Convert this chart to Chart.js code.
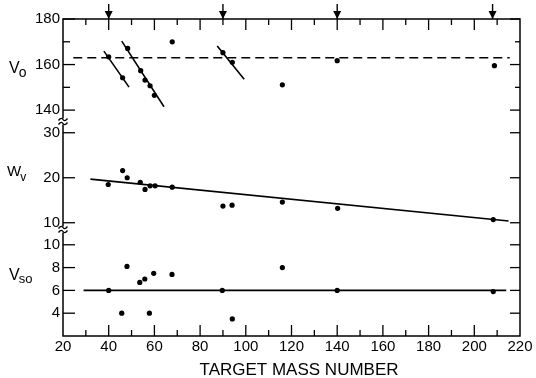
<!DOCTYPE html>
<html>
<head>
<meta charset="utf-8">
<script src="https://cdn.jsdelivr.net/npm/chart.js@4.4.0/dist/chart.umd.min.js"></script>
<style>
  html, body { margin: 0; padding: 0; background: #fff; }
  #wrap { width: 536px; height: 378px; }
</style>
</head>
<body>
<div id="wrap"><canvas id="myChart"></canvas></div>
<script>
// values (mass number vs. potential depth, MeV)
const massV0  = [40, 46.1, 48.3, 54.0, 55.9, 58.1, 60.0, 67.8, 90.0, 94.1, 116.0, 140.0, 208.8];
const depthV0 = [163.4, 154.2, 167.1, 157.3, 153.2, 150.7, 146.5, 170.0, 165.2, 161.0, 151.1, 161.7, 159.5];

const massW  = [39.8, 46.1, 48.1, 53.8, 55.9, 58.1, 60.3, 67.8, 90.0, 94.0, 116.0, 140.2, 208.3];
const depthW = [18.5, 21.6, 20.0, 19.0, 17.4, 18.2, 18.2, 17.9, 13.7, 13.9, 14.6, 13.2, 10.7];

const massSo  = [40, 45.7, 48.0, 53.6, 55.8, 57.8, 59.7, 67.7, 89.7, 94.1, 116.0, 140.0, 208.3];
const depthSo = [6.0, 4.0, 8.1, 6.7, 7.0, 4.0, 7.5, 7.4, 6.0, 3.5, 8.0, 6.0, 5.9];

// fitted lines
const v0MeanMass = [24.5, 215.5];
const v0Mean = [163, 163];
const wFitMass = [32, 215];
const wFit = [19.7, 10.4];
const soMeanMass = [29, 214];
const soMean = [6, 6];
// short slopes through the isotope groups: [mass, V0] end points
const v0Slopes = [
  [[37.9, 165.9], [48.9, 150.1]],
  [[45.7, 170.3], [64.2, 141.5]],
  [[87.5, 168.1], [99.3, 153.5]]
];

// ticks
const massTicks = [20, 40, 60, 80, 100, 120, 140, 160, 180, 200, 220];
const v0Ticks = [140, 160, 180];
const v0Minor = [150, 170];
const wTicks = [10, 20, 30];
const soTicks = [4, 6, 8, 10];
const arrowMass = [40, 90, 140, 208];

const FONT = "'Liberation Sans', Arial, sans-serif";

function pts(xs, ys) {
  return xs.map((x, i) => ({ x: x, y: ys[i] }));
}

function dotSet(data, axis) {
  return {
    data: data, yAxisID: axis,
    pointRadius: 2.6, pointBackgroundColor: '#000', pointBorderWidth: 0,
    showLine: false
  };
}

function lineSet(data, axis, dash) {
  return {
    data: data, yAxisID: axis,
    showLine: true, pointRadius: 0,
    borderColor: '#000', borderWidth: 1.6,
    borderDash: dash || []
  };
}

function yAxis(min, max, ticks, weight, order) {
  return {
    type: 'linear', position: 'left', stack: 'y',
    stackWeight: weight, weight: order,
    min: min, max: max,
    afterBuildTicks: s => { s.ticks = ticks.map(v => ({ value: v })); },
    afterFit: s => { s.width = 63; },
    grid: { display: false, drawTicks: false },
    border: { display: false },
    ticks: { color: '#000', font: { family: FONT, size: 15 }, padding: 3, autoSkip: false }
  };
}

const datasets = [
  dotSet(pts(massV0, depthV0), 'yV'),
  dotSet(pts(massW, depthW), 'yW'),
  dotSet(pts(massSo, depthSo), 'yS'),
  lineSet(pts(v0MeanMass, v0Mean), 'yV', [9, 5]),
  lineSet(pts(wFitMass, wFit), 'yW'),
  lineSet(pts(soMeanMass, soMean), 'yS')
];
v0Slopes.forEach(seg => {
  datasets.push(lineSet(seg.map(p => ({ x: p[0], y: p[1] })), 'yV'));
});

function tickLine(ctx, x1, y1, x2, y2) {
  ctx.beginPath();
  ctx.moveTo(x1, y1);
  ctx.lineTo(x2, y2);
  ctx.stroke();
}

function breakMark(ctx, x, y) {
  ctx.save();
  ctx.fillStyle = '#fff';
  ctx.fillRect(x - 1.5, y - 3, 3, 6);
  ctx.lineWidth = 1.3;
  [-2, 2].forEach(dy => {
    ctx.beginPath();
    ctx.moveTo(x - 4.5, y + dy + 1);
    ctx.bezierCurveTo(x - 2, y + dy - 2.5, x - 0.5, y + dy - 1, x, y + dy);
    ctx.bezierCurveTo(x + 0.5, y + dy + 1, x + 2, y + dy + 2.5, x + 4.5, y + dy - 1);
    ctx.stroke();
  });
  ctx.restore();
}

function subLabel(ctx, main, sub, x, y, size, subSize, drop) {
  ctx.font = size + 'px ' + FONT;
  ctx.textAlign = 'left';
  ctx.textBaseline = 'alphabetic';
  ctx.fillText(main, x, y);
  const w = ctx.measureText(main).width;
  ctx.font = subSize + 'px ' + FONT;
  ctx.fillText(sub, x + w - 1, y + drop);
}

const framePlugin = {
  id: 'frame',
  afterDraw(chart) {
    const ctx = chart.ctx;
    const a = chart.chartArea;
    const xs = chart.scales.x;
    const yV = chart.scales.yV, yW = chart.scales.yW, yS = chart.scales.yS;
    ctx.save();
    ctx.strokeStyle = '#000';
    ctx.fillStyle = '#000';
    ctx.lineWidth = 1.5;
    ctx.strokeRect(a.left, a.top, a.right - a.left, a.bottom - a.top);

    ctx.lineWidth = 1.3;
    // mass ticks, bottom and top, pointing inwards
    for (let m = 30; m < 220; m += 10) {
      const px = xs.getPixelForValue(m);
      const len = m % 20 === 0 ? 11 : 6;
      tickLine(ctx, px, a.bottom, px, a.bottom - len);
      tickLine(ctx, px, a.top, px, a.top + len);
    }
    // potential ticks, left and right
    [[yV, v0Ticks], [yW, wTicks], [yS, soTicks]].forEach(([s, list]) => {
      list.forEach(v => {
        const py = s.getPixelForValue(v);
        tickLine(ctx, a.left, py, a.left + 12, py);
        tickLine(ctx, a.right, py, a.right - 10, py);
      });
    });
    v0Minor.forEach(v => {
      const py = yV.getPixelForValue(v);
      tickLine(ctx, a.left, py, a.left + 7, py);
      tickLine(ctx, a.right, py, a.right - 5, py);
    });

    // axis breaks
    breakMark(ctx, a.left, yV.bottom);
    breakMark(ctx, a.left, yW.bottom);

    // arrows marking the closed shells
    arrowMass.forEach(m => {
      const px = xs.getPixelForValue(m);
      ctx.lineWidth = 1.4;
      tickLine(ctx, px, a.top - 15, px, a.top);
      ctx.beginPath();
      ctx.moveTo(px - 4, a.top - 8);
      ctx.lineTo(px + 4, a.top - 8);
      ctx.lineTo(px, a.top);
      ctx.closePath();
      ctx.fill();
    });

    // panel labels
    subLabel(ctx, 'V', 'o', 9, 73, 16, 14, 4);
    subLabel(ctx, 'W', 'v', 7, 176, 15, 12, 5);
    subLabel(ctx, 'V', 'so', 9, 280, 16, 13, 3);

    // axis title
    ctx.font = '17px ' + FONT;
    ctx.textAlign = 'center';
    ctx.textBaseline = 'middle';
    ctx.fillText('TARGET MASS NUMBER', xs.getPixelForValue(123.3), 370);
    ctx.restore();
  }
};

new Chart(document.getElementById('myChart').getContext('2d'), {
  type: 'scatter',
  data: { datasets: datasets },
  options: {
    responsive: true,
    maintainAspectRatio: false,
    animation: false,
    layout: { padding: { top: 19, right: 16, left: 0, bottom: 0 } },
    plugins: {
      legend: { display: false },
      tooltip: { enabled: false }
    },
    scales: {
      x: {
        type: 'linear', position: 'bottom', min: 20, max: 220,
        afterBuildTicks: s => { s.ticks = massTicks.map(v => ({ value: v })); },
        afterFit: s => { s.height = 42; },
        grid: { display: false, drawTicks: false },
        border: { display: false },
        ticks: { color: '#000', font: { family: FONT, size: 15 }, padding: 2, maxRotation: 0, autoSkip: false }
      },
      yV: yAxis(135, 180, v0Ticks, 102.5, 3),
      yW: yAxis(8.5, 32.5, wTicks, 108, 2),
      yS: yAxis(2, 11.34, soTicks, 106.5, 1)
    }
  },
  plugins: [framePlugin]
});
</script>
</body>
</html>
